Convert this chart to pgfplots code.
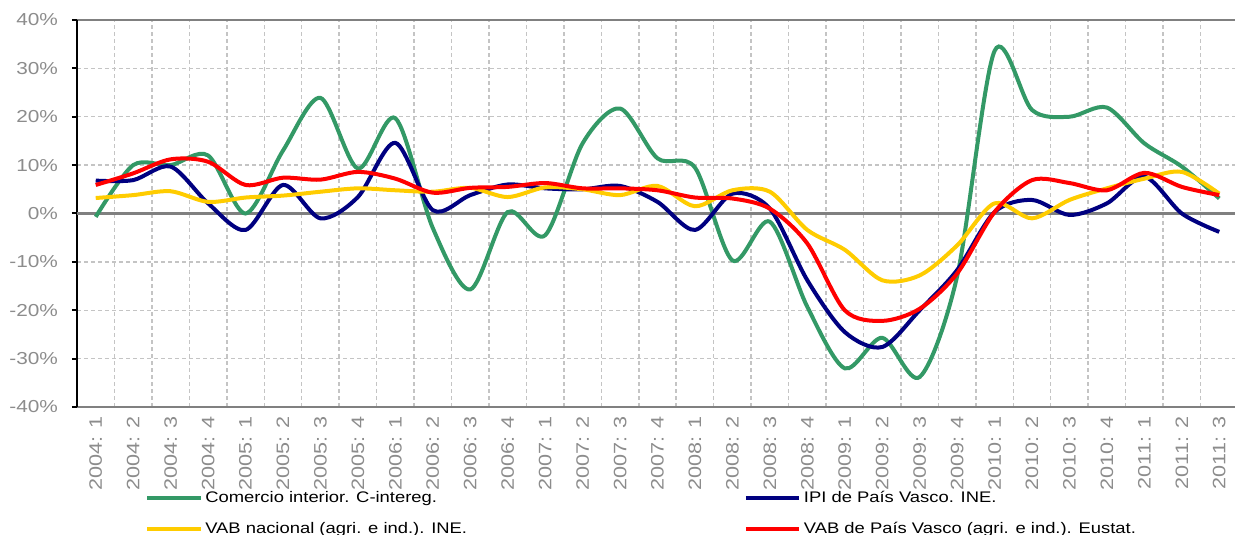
\documentclass[border=0pt]{standalone}
\usepackage{fontspec}
\setmainfont{Liberation Sans}[FakeStretch=1.2]
\usepackage{pgfplots}
\pgfplotsset{compat=1.18}

\definecolor{cgreen}{HTML}{339966}
\definecolor{cnavy}{HTML}{000080}
\definecolor{cyellow}{HTML}{FFCC00}
\definecolor{cred}{HTML}{FF0000}
\definecolor{tickgrey}{HTML}{8C8C8C}
\definecolor{gridgrey}{HTML}{C4C4C4}
\definecolor{axisgrey}{HTML}{808080}

% quarter index, Comercio interior, IPI PV, VAB nacional, VAB PV
\pgfplotstableread{
x   com    ipi    vabn   vabpv
0   -0.7   6.8    3.2    5.9
1   10.0   6.9    3.8    8.3
2   10.0   9.7    4.6    11.2
3   12.0   2.1    2.4    10.7
4   0.0    -3.4   3.3    5.9
5   13.0   5.9    3.7    7.4
6   23.9   -1.0   4.5    7.0
7   9.3    3.4    5.2    8.6
8   19.7   14.6   4.8    7.2
9   -3.0   0.7    4.5    4.3
10  -15.7  3.8    5.3    5.3
11  0.3    6.0    3.4    5.5
12  -4.5   5.2    5.4    6.3
13  14.5   5.0    5.0    5.2
14  21.7   5.7    3.8    5.2
15  11.4   2.4    5.7    4.8
16  9.5    -3.4   1.5    3.3
17  -9.7   4.1    4.8    3.1
18  -1.7   1.0    4.5    1.0
19  -19.3  -13.8  -3.4   -6.2
20  -32.0  -24.5  -7.5   -20.0
21  -25.7  -27.6  -13.8  -22.2
22  -33.8  -20.0  -12.8  -19.7
23  -13.0  -11.7  -6.6   -12.4
24  33.6   0.3    2.1    0.3
25  21.4   2.8    -1.0   6.9
26  20.0   -0.3   2.8    6.3
27  21.9   2.1    5.2    4.8
28  14.5   7.6    7.2    8.4
29  9.7    0.0    8.6    5.5
30  3.1    -3.8   4.1    3.8
}\datatable

\begin{document}
\begin{tikzpicture}
\begin{axis}[
    name=ax,
    scale only axis,
    width=870.75pt,
    height=290.25pt,
    xmin=-0.5, xmax=30.5,
    ymin=-40, ymax=40,
    axis x line=box,
    axis y line=left,
    axis line style={-, line width=1.5pt},
    x axis line style={axisgrey},
    y axis line style={black},
    xtick={0,...,30},
    xticklabels={2004: 1,2004: 2,2004: 3,2004: 4,2005: 1,2005: 2,2005: 3,2005: 4,
                 2006: 1,2006: 2,2006: 3,2006: 4,2007: 1,2007: 2,2007: 3,2007: 4,
                 2008: 1,2008: 2,2008: 3,2008: 4,2009: 1,2009: 2,2009: 3,2009: 4,
                 2010: 1,2010: 2,2010: 3,2010: 4,2011: 1,2011: 2,2011: 3},
    minor xtick={0.5,1.5,...,29.5},
    xtick style={draw=none},
    minor tick length=0pt,
    ytick={-40,-30,...,40},
    yticklabels={-40\%,-30\%,-20\%,-10\%,0\%,10\%,20\%,30\%,40\%},
    tick align=outside,
    major tick length=3.75pt,
    ytick style={black, line width=1.5pt},
    ymajorgrids=true,
    xminorgrids=true,
    grid style={gridgrey, line width=1.1pt, dash pattern=on 3pt off 2.25pt},
    minor grid style={gridgrey, line width=1.1pt, dash pattern=on 3pt off 2.25pt},
    major grid style={gridgrey, line width=1.1pt, dash pattern=on 3pt off 2.25pt},
    extra y ticks={0},
    extra y tick labels={},
    extra y tick style={grid=major, major grid style={axisgrey, solid, line width=2.2pt}},
    ticklabel style={text=tickgrey, font=\fontsize{13}{15}\selectfont},
    yticklabel style={xshift=-7pt},
    xticklabel style={rotate=90, anchor=east, font=\fontsize{13.5}{15}\selectfont},
    legend columns=2,
    legend cell align=left,
    legend style={at={(0,0)}, anchor=north west, xshift=51pt, yshift=-61pt,
        draw=none, fill=none, inner sep=0pt,
        font=\fontsize{11.5}{13}\selectfont, row sep=9.25pt},
    legend image code/.code={\draw[#1, line width=3pt] (0pt,0pt) -- (40pt,0pt);},
    every axis plot/.append style={line width=3pt, smooth, tension=0.5},
]
\addplot[cgreen] table[x=x, y=com] {\datatable};
\addplot[cnavy] table[x=x, y=ipi] {\datatable};
\addplot[cyellow] table[x=x, y=vabn] {\datatable};
\addplot[cred] table[x=x, y=vabpv] {\datatable};
\legend{\makebox[402pt][l]{Comercio interior. C-intereg.},
        IPI de País Vasco. INE.,
        \makebox[402pt][l]{VAB nacional (agri. e ind.). INE.},
        VAB de País Vasco (agri. e ind.). Eustat.}
\end{axis}
\pgfresetboundingbox
\path[use as bounding box] ([xshift=-57.75pt,yshift=-96pt]ax.south west)
    rectangle ([xshift=868.5pt,yshift=15pt]ax.north west);
\end{tikzpicture}
\end{document}
